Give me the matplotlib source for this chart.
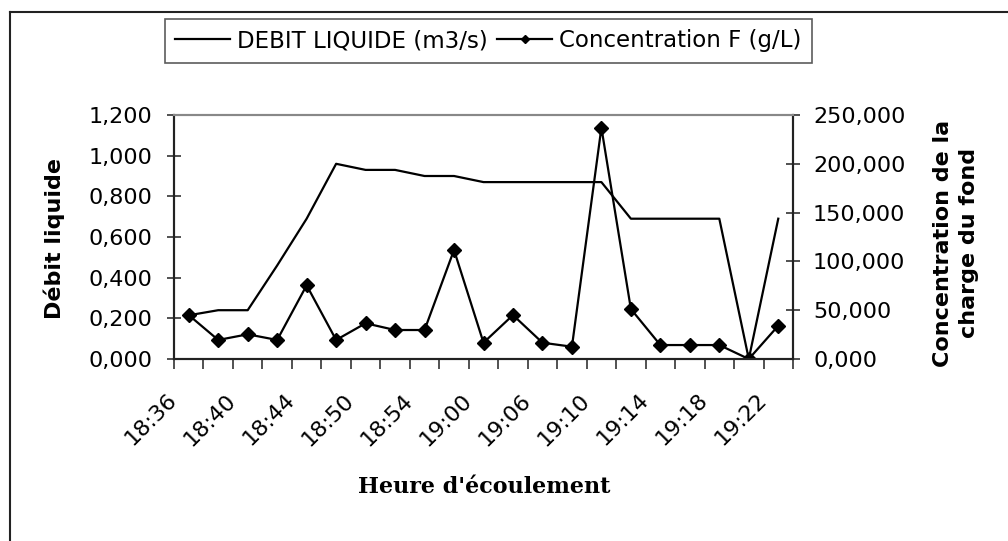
import matplotlib
matplotlib.use("Agg")
import matplotlib.pyplot as plt
import matplotlib.transforms as mtransforms
from matplotlib.lines import Line2D
from matplotlib.ticker import FuncFormatter, FixedLocator

times = ["18:36", "18:38", "18:40", "18:42", "18:44", "18:47", "18:50", "18:52",
         "18:54", "18:57", "19:00", "19:03", "19:06", "19:08", "19:10", "19:12",
         "19:14", "19:16", "19:18", "19:20", "19:22"]
debit = [0.215, 0.24, 0.24, 0.46, 0.69, 0.96, 0.93, 0.93, 0.90, 0.90, 0.87,
         0.87, 0.87, 0.87, 0.87, 0.69, 0.69, 0.69, 0.69, 0.0, 0.69]
conc = [45.0, 19.5, 25.3, 19.5, 75.5, 19.5, 36.6, 29.7, 29.7, 111.7, 16.7,
        45.0, 16.7, 12.6, 237.0, 51.2, 14.3, 14.3, 14.3, 0.0, 34.1]

plt.rcParams['font.family'] = ['DejaVu Sans']

fig = plt.figure(figsize=(10.08, 5.41), dpi=100)
ax = fig.add_axes([174 / 1008, 1 - 359 / 541, 619 / 1008, 244 / 541])
ax2 = ax.twinx()

x = list(range(len(times)))
l1, = ax.plot(x, debit, color='black', lw=1.6, label='DEBIT LIQUIDE (m3/s)')
l2, = ax2.plot(x, conc, color='black', lw=1.6, marker='D', markersize=7,
               label='Concentration F (g/L)')

ax.set_xlim(-0.5, len(times) - 0.5)
ax.set_ylim(0, 1.2)
ax2.set_ylim(0, 250)
ax.set_yticks([0, 0.2, 0.4, 0.6, 0.8, 1.0, 1.2])
ax2.set_yticks([0, 50, 100, 150, 200, 250])
fmt = FuncFormatter(lambda v, p: f"{v:.3f}".replace('.', ','))
ax.yaxis.set_major_formatter(fmt)
ax2.yaxis.set_major_formatter(fmt)

ax.set_xticks(x[::2])
ax.set_xticklabels(times[::2], rotation=45, ha='right', va='center',
                   rotation_mode='anchor')
ax.xaxis.set_minor_locator(FixedLocator([i - 0.5 for i in range(len(times) + 1)]))
ax.tick_params(axis='x', which='major', length=0, labelsize=16, pad=0)
ax.tick_params(axis='x', which='minor', length=7, direction='out', width=1.2, color='#333333')
ax.tick_params(axis='y', length=10, direction='inout', width=1.2, color='#333333',
               labelsize=16, pad=10.8)
ax2.tick_params(axis='y', length=10, direction='inout', width=1.2, color='#333333',
                labelsize=16, pad=9.4)
off = mtransforms.ScaledTranslation(-15 / 100, -38 / 100, fig.dpi_scale_trans)
for lab in ax.get_xticklabels():
    lab.set_transform(lab.get_transform() + off)

for a in (ax, ax2):
    a.spines['top'].set_color('#888888')
    a.spines['top'].set_linewidth(1.5)
    for s in ('left', 'right', 'bottom'):
        a.spines[s].set_linewidth(1.5)
        a.spines[s].set_color('#222222')

ax.set_ylabel('Débit liquide', fontsize=16, fontweight='bold', va='center', ha='center')
ax.yaxis.set_label_coords(-0.1939, 0.492)
ax2.set_ylabel('Concentration de la\ncharge du fond', fontsize=16,
               fontweight='bold', va='center', ha='center', linespacing=1.4)
ax2.yaxis.set_label_coords(1.263, 0.475)
ax.set_xlabel("Heure d'écoulement", fontsize=16, fontweight='bold',
              family=['DejaVu Serif'], va='center', ha='center')
ax.xaxis.set_label_coords(0.5008, -0.525)

leg = fig.legend([l1, l2], [l1.get_label(), l2.get_label()], ncol=2,
                 loc='upper left', bbox_to_anchor=(165 / 1008, 1 - 19 / 541),
                 borderaxespad=0, fontsize=16.5,
                 frameon=True, fancybox=False, handlelength=2.4,
                 handletextpad=0.3, columnspacing=0.4, borderpad=0.45,
                 markerscale=0.6)
leg.get_frame().set_edgecolor('#333333')
leg.get_frame().set_linewidth(1.2)

# outer chart border (left and top visible)
bx, by = 9.5 / 1008, 1 - 11.5 / 541
fig.add_artist(Line2D([bx, bx], [0, by], transform=fig.transFigure, color='#222222', lw=1.5))
fig.add_artist(Line2D([bx, 1.0], [by, by], transform=fig.transFigure, color='#222222', lw=1.5))

fig.savefig('out.png', dpi=100)
